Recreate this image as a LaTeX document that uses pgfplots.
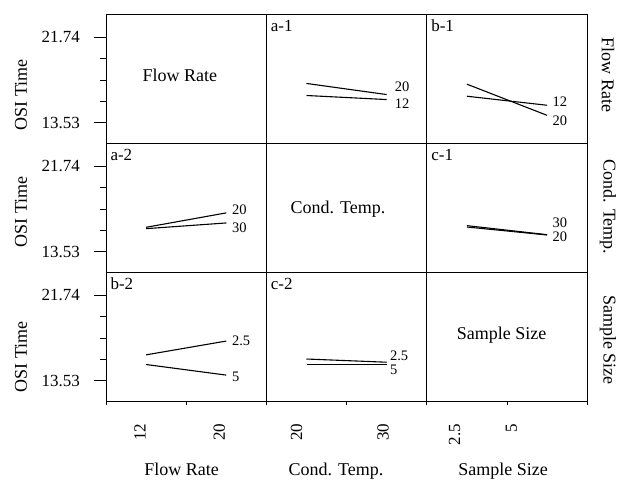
\documentclass[border=0pt]{standalone}
\usepackage{fontspec}
\setmainfont{Liberation Serif}
\usepackage{pgfplots}
\pgfplotsset{compat=1.18}
\newcommand\fbig{\fontsize{18}{20}\selectfont}
\newcommand\ftick{\fontsize{17}{19}\selectfont}
\newcommand\fid{\fontsize{17}{19}\selectfont}
\newcommand\flab{\fontsize{14.5}{16}\selectfont}
\pgfplotsset{
  panel/.style={scale only axis, width=160.4pt, height=129pt,
    xmin=-0.5, xmax=1.5, ymin=11.5, ymax=23.92, anchor=north west,
    axis line style={line width=0.8pt}, xtick=\empty, ytick=\empty, clip=false,
    tick align=outside, major tick length=12pt, minor tick length=6pt,
    every tick/.style={black, line width=0.8pt}},
  leftcol/.style={ytick={13.53,21.74}, yticklabels={13.53,21.74},
    minor ytick={15.5825,17.635,19.6875}, ytick pos=left,
    yticklabel style={font=\ftick, inner sep=0pt, anchor=east, xshift=-14pt}},
  bottomrow/.style={xtick pos=bottom, xtick style={draw=none},
    xticklabel style={font=\ftick, yshift=-10pt, rotate=90, anchor=east, inner sep=0pt},
    extra x ticks={-0.5,0.5,1.5}, extra x tick labels={},
    extra x tick style={major tick length=3pt, xtick style={draw=black}}},
}
\tikzset{
  ln/.style={black, line width=1.1pt},
  lab/.style={anchor=west, inner sep=0pt, font=\flab},
  pid/.style={anchor=base west, inner sep=0pt, font=\fid},
  diag/.style={anchor=base, inner sep=0pt, font=\fbig},
}
\begin{document}
\begin{tikzpicture}
\useasboundingbox (0,0) rectangle (623pt,479pt);
% ---------- row 1 ----------
\begin{axis}[panel, leftcol, at={(106pt,464.3pt)}]
  \node[diag] at (rel axis cs:0.461,0.48) {Flow Rate};
\end{axis}
\begin{axis}[panel, at={(266.4pt,464.3pt)}]
  \addplot[ln, no marks] coordinates {(0,17.30) (1,16.23)};
  \addplot[ln, no marks] coordinates {(0,16.14) (1,15.75)};
  \node[lab] at (axis cs:1.10,16.97) {20};
  \node[lab] at (axis cs:1.10,15.36) {12};
  \node[pid] at (rel axis cs:0,1) [xshift=4.3pt, yshift=-17pt] {a-1};
\end{axis}
\begin{axis}[panel, at={(426.8pt,464.3pt)}]
  \addplot[ln, no marks] coordinates {(0,17.23) (1,14.23)};
  \addplot[ln, no marks] coordinates {(0,16.07) (1,15.20)};
  \node[lab] at (axis cs:1.067,15.52) {12};
  \node[lab] at (axis cs:1.067,13.75) {20};
  \node[pid] at (rel axis cs:0,1) [xshift=4.3pt, yshift=-17pt] {b-1};
\end{axis}
% ---------- row 2 ----------
\begin{axis}[panel, leftcol, at={(106pt,335.3pt)}]
  \addplot[ln, no marks] coordinates {(0,15.87) (1,17.26)};
  \addplot[ln, no marks] coordinates {(0,15.74) (1,16.29)};
  \node[lab] at (axis cs:1.07,17.59) {20};
  \node[lab] at (axis cs:1.07,15.80) {30};
  \node[pid] at (rel axis cs:0,1) [xshift=4.3pt, yshift=-17pt] {a-2};
\end{axis}
\begin{axis}[panel, at={(266.4pt,335.3pt)}]
  \node[diag] at (rel axis cs:0.447,0.456) {Cond. Temp.};
\end{axis}
\begin{axis}[panel, at={(426.8pt,335.3pt)}]
  \addplot[ln, no marks] coordinates {(0,16.03) (1,15.16)};
  \addplot[ln, no marks] coordinates {(0,15.90) (1,15.13)};
  \node[lab] at (axis cs:1.067,16.29) {30};
  \node[lab] at (axis cs:1.067,14.99) {20};
  \node[pid] at (rel axis cs:0,1) [xshift=4.3pt, yshift=-17pt] {c-1};
\end{axis}
% ---------- row 3 ----------
\begin{axis}[panel, leftcol, bottomrow, at={(106pt,206.3pt)},
    xtick={-0.075,0.9125}, xticklabels={12,20}]
  \addplot[ln, no marks] coordinates {(0,16.01) (1,17.34)};
  \addplot[ln, no marks] coordinates {(0,15.08) (1,14.06)};
  \node[lab] at (axis cs:1.07,17.34) {2.5};
  \node[lab] at (axis cs:1.07,13.85) {5};
  \node[pid] at (rel axis cs:0,1) [xshift=4.3pt, yshift=-17pt] {b-2};
\end{axis}
\begin{axis}[panel, bottomrow, at={(266.4pt,206.3pt)},
    xtick={-0.125,0.956}, xticklabels={20,30}]
  \addplot[ln, no marks] coordinates {(0,15.61) (1,15.30)};
  \addplot[ln, no marks] coordinates {(0,15.08) (1,15.08)};
  \node[lab] at (axis cs:1.04,15.92) {2.5};
  \node[lab] at (axis cs:1.04,14.54) {5};
  \node[pid] at (rel axis cs:0,1) [xshift=4.3pt, yshift=-17pt] {c-2};
\end{axis}
\begin{axis}[panel, bottomrow, at={(426.8pt,206.3pt)},
    xtick={-0.154,0.555}, xticklabels={2.5,5}]
  \node[diag] at (rel axis cs:0.466,0.48) {Sample Size};
\end{axis}
% ---------- outer labels ----------
\node[font=\fbig, rotate=90, inner sep=0pt] at (21pt,384pt) {OSI Time};
\node[font=\fbig, rotate=90, inner sep=0pt] at (21pt,267.3pt) {OSI Time};
\node[font=\fbig, rotate=90, inner sep=0pt] at (21pt,122.3pt) {OSI Time};
\node[font=\fbig, rotate=-90, inner sep=0pt] at (608pt,404pt) {Flow Rate};
\node[font=\fbig, rotate=-90, inner sep=0pt] at (608pt,272pt) {Cond. Temp.};
\node[font=\fbig, rotate=-90, inner sep=0pt] at (608pt,139pt) {Sample Size};
\node[font=\fbig, anchor=base, inner sep=0pt] at (181.7pt,4pt) {Flow Rate};
\node[font=\fbig, anchor=base, inner sep=0pt] at (336pt,4pt) {Cond. Temp.};
\node[font=\fbig, anchor=base, inner sep=0pt] at (503pt,4pt) {Sample Size};
\end{tikzpicture}
\end{document}
